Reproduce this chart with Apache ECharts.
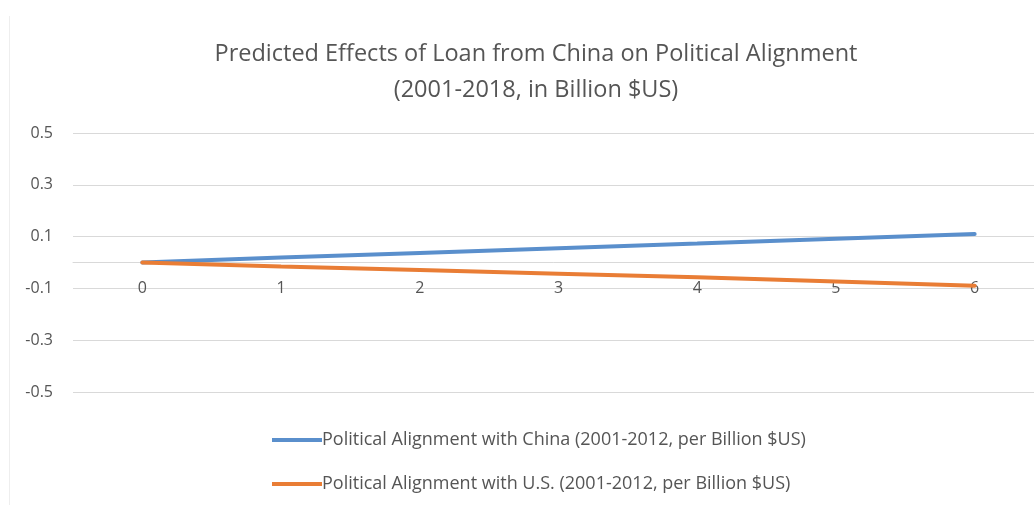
<!DOCTYPE html>
<html>
<head>
<meta charset="utf-8">
<script src="https://cdn.jsdelivr.net/npm/echarts@6/dist/echarts.min.js"></script>
<style>
    html, body { margin: 0; padding: 0; background: #fff; }
    #main { width: 1034px; height: 505px; }
</style>
</head>
<body>
<div id="main"></div>
<script>
// chart data
var categories = ['0', '1', '2', '3', '4', '5', '6'];
var chinaValues = [0, 0.019, 0.037, 0.055, 0.073, 0.092, 0.11];
var usValues = [0, -0.015, -0.029, -0.043, -0.057, -0.073, -0.09];
var seriesNames = [
    'Political Alignment with China (2001-2012, per Billion $US)',
    'Political Alignment with U.S. (2001-2012, per Billion $US)'
];
var yTickLabels = ['-0.5', '-0.3', '-0.1', '0.1', '0.3', '0.5'];

var font = 'Open Sans';
var textColor = '#555555';

function initChart(){
    var myChart = echarts.init(document.getElementById('main'));
    var gridTop = 133, gridBottom = 113;
    var gridHeight = 505 - gridTop - gridBottom;
    var option = {
        animation: false,
        graphic: [
            {
                // faint frame edge on the left
                type: 'line',
                shape: { x1: 9.5, y1: 16, x2: 9.5, y2: 505 },
                style: { stroke: '#eeeeee', lineWidth: 1 },
                silent: true
            }
        ],
        title: {
            text: 'Predicted Effects of Loan from China on Political Alignment\n(2001-2018, in Billion $US)',
            left: 531,
            top: 31,
            textAlign: 'center',
            textStyle: {
                fontFamily: font,
                fontWeight: 'normal',
                fontSize: 23.5,
                lineHeight: 36,
                color: textColor
            }
        },
        legend: {
            orient: 'vertical',
            left: 267,
            top: 426,
            itemGap: 26,
            itemWidth: 50,
            itemHeight: 4,
            icon: 'rect',
            data: seriesNames,
            textStyle: {
                fontFamily: font,
                fontSize: 18,
                color: textColor,
                padding: [0, 0, 0, -5]
            }
        },
        grid: {
            left: 73,
            right: -10,
            top: gridTop,
            bottom: gridBottom,
            outerBoundsMode: 'none'
        },
        xAxis: {
            type: 'category',
            data: categories,
            boundaryGap: true,
            offset: -gridHeight / 2,
            axisLine: {
                onZero: false,
                lineStyle: { color: '#d9d9d9', width: 1 }
            },
            axisTick: { show: false },
            axisLabel: {
                margin: 18,
                fontFamily: font,
                fontSize: 16,
                color: textColor
            },
            splitLine: { show: false }
        },
        yAxis: {
            type: 'value',
            min: -0.5,
            max: 0.5,
            interval: 0.1,
            axisLine: { show: false },
            axisTick: { show: false },
            axisLabel: {
                margin: 20,
                fontFamily: font,
                fontSize: 16,
                color: textColor,
                formatter: function (value) {
                    var s = (Math.round(value * 10) / 10).toFixed(1);
                    return yTickLabels.indexOf(s) >= 0 ? s : '';
                }
            },
            splitLine: {
                show: true,
                lineStyle: {
                    color: ['#d9d9d9', 'rgba(0,0,0,0)'],
                    width: 1
                }
            }
        },
        series: [
            {
                name: seriesNames[0],
                type: 'line',
                data: chinaValues,
                symbol: 'none',
                lineStyle: { color: '#5a8fcc', width: 4, cap: 'round' },
                itemStyle: { color: '#5a8fcc' }
            },
            {
                name: seriesNames[1],
                type: 'line',
                data: usValues,
                symbol: 'none',
                lineStyle: { color: '#e97d35', width: 4, cap: 'round' },
                itemStyle: { color: '#e97d35' }
            }
        ]
    };
    myChart.setOption(option);
}

initChart();
</script>
</body>
</html>
